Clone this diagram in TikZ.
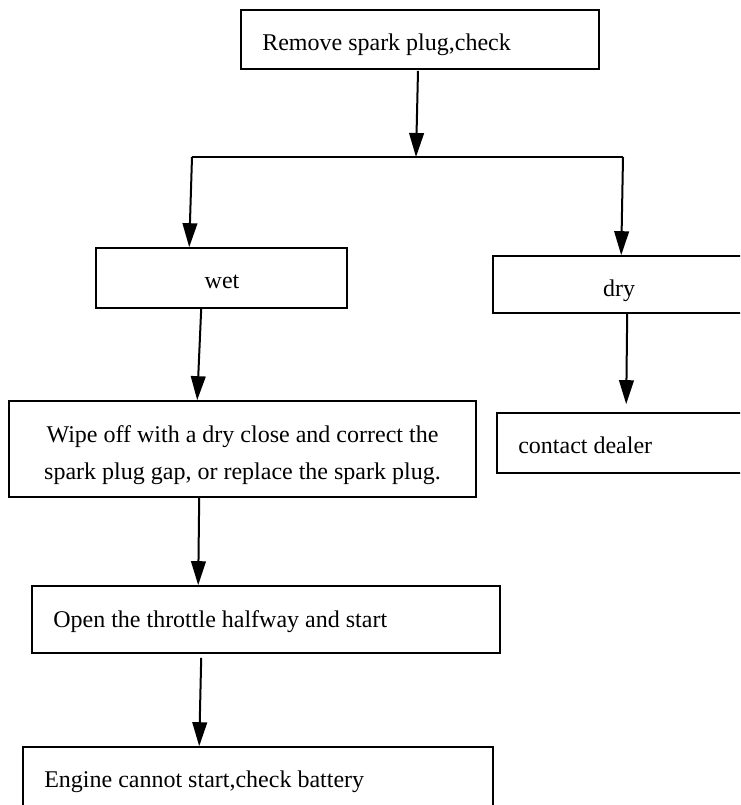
\documentclass[tikz,border=0pt]{standalone}
\usepackage{fontspec}
\setmainfont{Liberation Serif}
\usetikzlibrary{arrows.meta,calc,fit}
\begin{document}
\begin{tikzpicture}[x=0.75pt,y=-0.75pt,
  box/.style={draw,line width=1.2pt,rectangle,inner sep=0pt},
  lbl/.style={font=\fontsize{18}{28}\selectfont,inner sep=0pt},
  arr/.style={line width=1.5pt,-{Triangle[length=18pt,width=11pt]}},
  ln/.style={line width=1.5pt}]
\useasboundingbox (0,0) rectangle (740,805);
\clip (0,0) rectangle (740,805);
% boxes
\node[box,fit={(241,10)(599,69)}] (top) {};
\node[box,fit={(96,248)(347,308)}] (wet) {};
\node[box,fit={(493,256)(746,313)}] (dry) {};
\node[box,fit={(497,413)(770,473)}] (dealer) {};
\node[box,fit={(9,401)(476,497)}] (wipe) {};
\node[box,fit={(32,586)(500,653)}] (open) {};
\node[box,fit={(23,747)(493,830)}] (engine) {};
% texts
\node[lbl,anchor=base west] (ttop) at (262,51) {Remove spark plug,check};
\node[lbl,anchor=base] (twet) at (222,288) {wet};
\node[lbl,anchor=base] (tdry) at (619,296) {dry};
\node[lbl,anchor=base west] (tdealer) at (518,453) {contact dealer};
\node[lbl,anchor=base] (twipea) at (242.5,442) {Wipe off with a dry close and correct the};
\node[lbl,anchor=base] (twipeb) at (242.5,479) {spark plug gap, or replace the spark plug.};
\node[lbl,anchor=base west] (topen) at (53,627) {Open the throttle halfway and start};
\node[lbl,anchor=base west] (tengine) at (44,787) {Engine cannot start,check battery};
% connectors
\coordinate (j) at (416,157);
\coordinate (jl) at (192,157);
\coordinate (jr) at (623,157);
\draw[arr] ($(top.south)+(-2,1)$) -- (j);
\draw[ln] (jl) -- (jr);
\draw[arr] (jl) -- ($(wet.north west)+(94,0)$);
\draw[arr] (jr) -- ($(dry.north west)+(129,0)$);
\draw[arr] ($(wet.south west)+(106,0)$) -- ($(wipe.north west)+(189,0)$);
\draw[arr] ($(wipe.south west)+(191,0)$) -- ($(open.north west)+(167,0)$);
\draw[arr] ($(open.south west)+(170,4)$) -- ($(engine.north west)+(177,0)$);
\draw[arr] ($(dry.south west)+(135,0)$) -- ($(dealer.north west)+(130,-8)$);
\end{tikzpicture}
\end{document}
